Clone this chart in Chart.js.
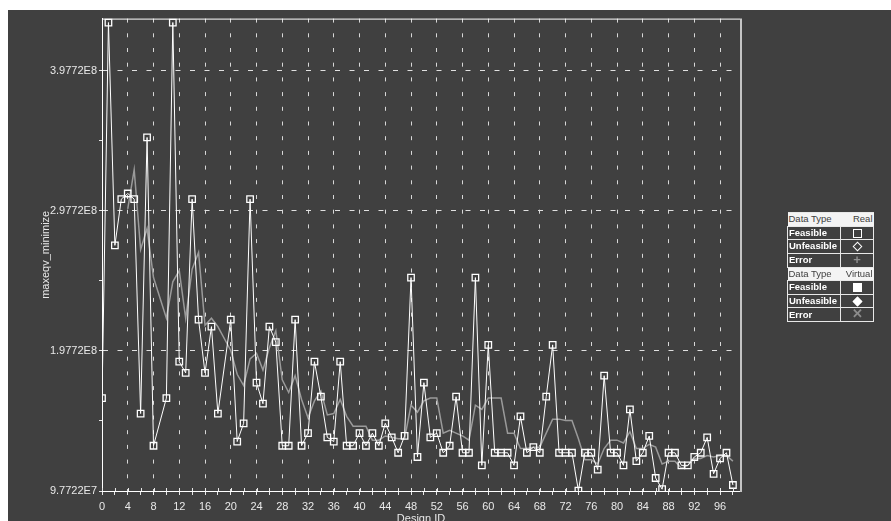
<!DOCTYPE html>
<html>
<head>
<meta charset="utf-8">
<script src="https://cdn.jsdelivr.net/npm/chart.js@4.4.0/dist/chart.umd.min.js"></script>
<style>
    html, body { margin: 0; padding: 0; background: #ffffff; overflow: hidden; }
    #frame { position: absolute; left: 8px; top: 10px; width: 883px; height: 511px; background: #404040; }
    #chart { position: absolute; left: 0; top: 0; }
    #legend {
        position: absolute; left: 779px; top: 202px; width: 86px;
        border-collapse: collapse; table-layout: fixed;
        font-family: 'Liberation Sans', Arial, sans-serif; font-size: 9.5px; line-height: 12px;
    }
    #legend td { border: 1px solid #e8e8e8; height: 12.5px; padding: 0 1px; white-space: nowrap; overflow: hidden; }
    #legend tr.head td { background: #f4f4f4; color: #404040; border-left: none; border-right: none; }
    #legend tr.row td { background: #404040; color: #ffffff; font-weight: bold; }
    #legend td.icon { text-align: center; padding: 0; }
    .sq { display: inline-block; width: 9px; height: 9px; border: 1.5px solid #fff; box-sizing: border-box; vertical-align: middle; }
    .sq.fill { background: #fff; }
    .dm { display: inline-block; width: 7px; height: 7px; border: 1.5px solid #fff; box-sizing: border-box; transform: rotate(45deg); vertical-align: middle; }
    .dm.fill { background: #fff; }
    .err { color: #8c8c8c; font-size: 13px; font-weight: bold; line-height: 11px; }
</style>
</head>
<body>
<div id="frame">
    <canvas id="chart" width="883" height="511"></canvas>
    <table id="legend">
        <colgroup><col style="width: 53px"><col style="width: 33px"></colgroup>
        <tr class="head"><td>Data Type</td><td style="text-align:right">Real</td></tr>
        <tr class="row"><td>Feasible</td><td class="icon"><span class="sq"></span></td></tr>
        <tr class="row"><td>Unfeasible</td><td class="icon"><span class="dm"></span></td></tr>
        <tr class="row"><td>Error</td><td class="icon"><span class="err">+</span></td></tr>
        <tr class="head"><td>Data Type</td><td style="text-align:right">Virtual</td></tr>
        <tr class="row"><td>Feasible</td><td class="icon"><span class="sq fill"></span></td></tr>
        <tr class="row"><td>Unfeasible</td><td class="icon"><span class="dm fill"></span></td></tr>
        <tr class="row"><td>Error</td><td class="icon"><span class="err">✕</span></td></tr>
    </table>
</div>
<script>
// design IDs on the x axis
const designIds = [
    0, 1, 2, 3, 4, 5, 6, 7, 8, 9, 10, 11, 12, 13, 14, 15, 16, 17, 18, 19,
    20, 21, 22, 23, 24, 25, 26, 27, 28, 29, 30, 31, 32, 33, 34, 35, 36, 37, 38, 39,
    40, 41, 42, 43, 44, 45, 46, 47, 48, 49, 50, 51, 52, 53, 54, 55, 56, 57, 58, 59,
    60, 61, 62, 63, 64, 65, 66, 67, 68, 69, 70, 71, 72, 73, 74, 75, 76, 77, 78, 79,
    80, 81, 82, 83, 84, 85, 86, 87, 88, 89, 90, 91, 92, 93, 94, 95, 96, 97, 98
];

// maxeqv_minimize, real feasible designs (null = no feasible result)
const feasibleValues = [
    1.64e8, 4.32e8, 2.73e8, 3.06e8, 3.10e8, 3.06e8, 1.53e8, 3.50e8, 1.30e8, null,
    1.64e8, 4.32e8, 1.90e8, 1.82e8, 3.06e8, 2.20e8, 1.82e8, 2.15e8, 1.53e8, null,
    2.20e8, 1.33e8, 1.46e8, 3.06e8, 1.75e8, 1.60e8, 2.15e8, 2.04e8, 1.30e8, 1.30e8,
    2.20e8, 1.30e8, 1.39e8, 1.90e8, 1.65e8, 1.36e8, 1.33e8, 1.90e8, 1.30e8, 1.30e8,
    1.39e8, 1.30e8, 1.39e8, 1.30e8, 1.46e8, 1.36e8, 1.25e8, 1.37e8, 2.50e8, 1.22e8,
    1.75e8, 1.36e8, 1.39e8, 1.25e8, 1.30e8, 1.65e8, 1.25e8, 1.25e8, 2.50e8, 1.16e8,
    2.02e8, 1.25e8, 1.25e8, 1.25e8, 1.16e8, 1.51e8, 1.25e8, 1.29e8, 1.25e8, 1.65e8,
    2.02e8, 1.25e8, 1.25e8, 1.25e8, 0.98e8, 1.25e8, 1.25e8, 1.13e8, 1.80e8, 1.25e8,
    1.25e8, 1.16e8, 1.56e8, 1.19e8, 1.25e8, 1.37e8, 1.07e8, 0.99e8, 1.25e8, 1.25e8,
    1.16e8, 1.16e8, 1.22e8, 1.25e8, 1.36e8, 1.10e8, 1.21e8, 1.25e8, 1.02e8
];

// grey trend line
const trendValues = [
    null, null, null, null, 2.99e8, 3.27e8, 2.70e8, 2.85e8, 2.50e8, null,
    2.21e8, 2.47e8, 2.55e8, 2.21e8, 2.56e8, 2.68e8, 2.16e8, 2.21e8, 2.15e8, null,
    1.98e8, 1.81e8, 1.73e8, 1.92e8, 1.96e8, 1.84e8, 2.00e8, 2.12e8, 1.77e8, 1.68e8,
    1.80e8, 1.63e8, 1.50e8, 1.62e8, 1.69e8, 1.52e8, 1.53e8, 1.63e8, 1.51e8, 1.44e8,
    1.44e8, 1.44e8, 1.34e8, 1.34e8, 1.37e8, 1.36e8, 1.35e8, 1.35e8, 1.59e8, 1.54e8,
    1.62e8, 1.64e8, 1.64e8, 1.39e8, 1.41e8, 1.39e8, 1.37e8, 1.34e8, 1.59e8, 1.56e8,
    1.64e8, 1.64e8, 1.64e8, 1.39e8, 1.39e8, 1.28e8, 1.28e8, 1.29e8, 1.29e8, 1.39e8,
    1.49e8, 1.49e8, 1.48e8, 1.48e8, 1.35e8, 1.20e8, 1.20e8, 1.17e8, 1.28e8, 1.34e8,
    1.34e8, 1.32e8, 1.40e8, 1.28e8, 1.28e8, 1.31e8, 1.29e8, 1.17e8, 1.19e8, 1.19e8,
    1.14e8, 1.16e8, 1.21e8, 1.21e8, 1.23e8, 1.22e8, 1.23e8, 1.23e8, 1.19e8
];

// axis ticks
const xTickValues = [
    0, 2, 4, 6, 8, 10, 12, 14, 16, 18, 20, 22, 24, 26, 28, 30, 32, 34, 36, 38,
    40, 42, 44, 46, 48, 50, 52, 54, 56, 58, 60, 62, 64, 66, 68, 70, 72, 74, 76, 78,
    80, 82, 84, 86, 88, 90, 92, 94, 96, 98
];
const yTickValues = [0.97722e8, 1.47722e8, 1.97722e8, 2.47722e8, 2.97722e8, 3.47722e8, 3.97722e8];
const yTickLabels = ['9.7722E7', '', '1.9772E8', '', '2.9772E8', '', '3.9772E8'];

const X_MIN = 0, X_MAX = 99.1;
const Y_MIN = 0.97722e8, Y_MAX = 4.348e8;

const TEXT = '#e8e8e8';
const FONT = { family: "'Liberation Sans', Arial, sans-serif", size: 11 };

function toPoints(values) {
    return designIds.map((id, i) => ({ x: id, y: values[i] }));
}

// top / right frame of the plot and the small inner x ticks
const frameLines = {
    id: 'frameLines',
    afterDraw(chart) {
        const { ctx, chartArea: a } = chart;
        const xs = chart.scales.x;
        ctx.save();
        ctx.strokeStyle = '#ffffff';
        ctx.lineWidth = 1;
        ctx.beginPath();
        ctx.moveTo(a.left, a.top + 0.5);
        ctx.lineTo(a.right, a.top + 0.5);
        ctx.stroke();
        ctx.strokeStyle = '#c4c4c4';
        ctx.lineWidth = 2;
        ctx.beginPath();
        ctx.moveTo(a.right + 1, a.top);
        ctx.lineTo(a.right + 1, a.bottom + 1);
        ctx.stroke();
        ctx.strokeStyle = '#e8e8e8';
        ctx.lineWidth = 1;
        xTickValues.forEach((v) => {
            const px = Math.round(xs.getPixelForValue(v)) + 0.5;
            ctx.beginPath();
            ctx.moveTo(px, a.bottom - 3);
            ctx.lineTo(px, a.bottom);
            ctx.stroke();
        });
        ctx.restore();
    }
};

new Chart(document.getElementById('chart').getContext('2d'), {
    type: 'line',
    data: {
        datasets: [
            {
                label: 'Feasible (Real)',
                data: toPoints(feasibleValues),
                borderColor: '#ffffff',
                borderWidth: 1,
                pointStyle: 'rect',
                pointRadius: 4.6,
                pointBorderWidth: 1.3,
                pointBorderColor: '#ffffff',
                pointBackgroundColor: 'rgba(0,0,0,0)',
                spanGaps: true,
                tension: 0,
                order: 1
            },
            {
                label: 'Trend',
                data: toPoints(trendValues),
                borderColor: '#9a9a9a',
                borderWidth: 1.5,
                pointRadius: 0,
                spanGaps: true,
                tension: 0,
                order: 2
            }
        ]
    },
    options: {
        responsive: false,
        animation: false,
        devicePixelRatio: 1,
        layout: { padding: { left: 0, top: 6, right: 151, bottom: 0 } },
        plugins: {
            legend: { display: false },
            tooltip: { enabled: false }
        },
        scales: {
            x: {
                type: 'linear',
                min: X_MIN,
                max: X_MAX,
                afterBuildTicks: (scale) => { scale.ticks = xTickValues.map((v) => ({ value: v })); },
                afterFit: (scale) => { scale.height = 30; },
                ticks: {
                    autoSkip: false,
                    maxRotation: 0,
                    color: TEXT,
                    font: FONT,
                    padding: 5,
                    callback: (value) => (value % 4 === 0 ? String(value) : '')
                },
                grid: {
                    color: (c) => (c.tick && c.tick.value % 4 === 0 && c.tick.value > 0 ? '#d8d8d8' : 'rgba(0,0,0,0)'),
                    lineWidth: 1,
                    tickColor: '#e8e8e8',
                    tickLength: 4
                },
                border: { display: true, color: '#ffffff', width: 1, dash: [4, 10.7] },
                title: {
                    display: true,
                    text: 'Design ID',
                    color: TEXT,
                    font: FONT,
                    padding: { top: 0, bottom: -5 }
                }
            },
            y: {
                type: 'linear',
                min: Y_MIN,
                max: Y_MAX,
                afterBuildTicks: (scale) => { scale.ticks = yTickValues.map((v) => ({ value: v })); },
                afterFit: (scale) => { scale.width = 94; },
                ticks: {
                    autoSkip: false,
                    color: TEXT,
                    font: FONT,
                    padding: 2,
                    callback: (value, index) => yTickLabels[index]
                },
                grid: {
                    color: (c) => (c.index % 2 === 0 && c.index > 0 ? '#e0e0e0' : 'rgba(0,0,0,0)'),
                    lineWidth: 1,
                    tickColor: '#e8e8e8',
                    tickLength: 3
                },
                border: { display: true, color: '#ffffff', width: 1, dash: [5, 9.5] },
                title: {
                    display: true,
                    text: 'maxeqv_minimize',
                    color: TEXT,
                    font: FONT,
                    padding: { top: 31, bottom: 0 }
                }
            }
        }
    },
    plugins: [frameLines]
});
</script>
</body>
</html>
